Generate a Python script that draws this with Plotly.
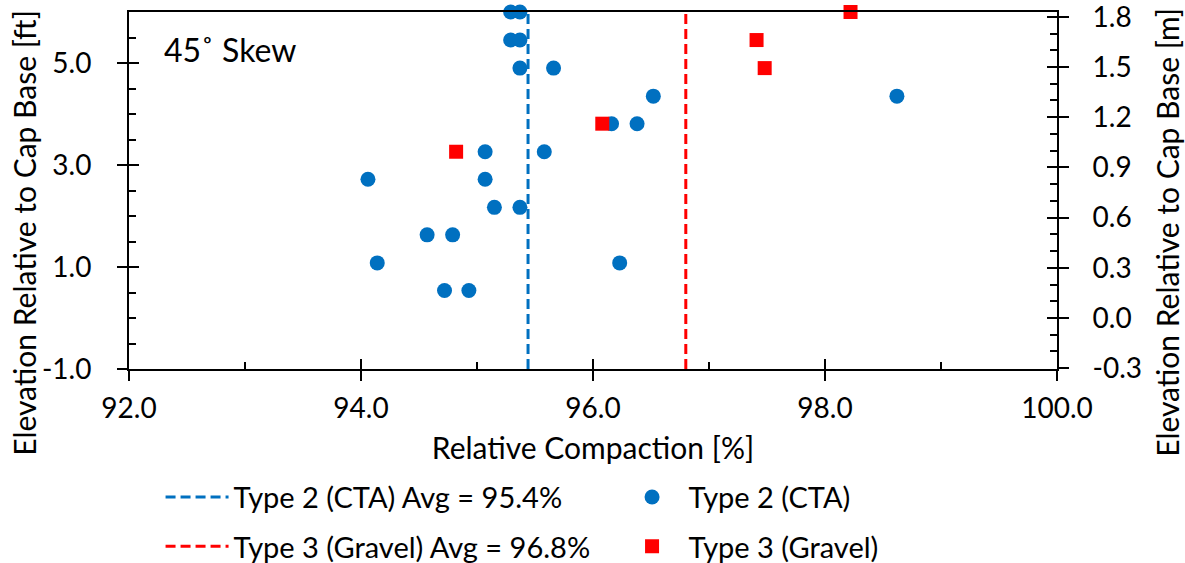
import plotly.graph_objects as go

# ---- data ----
cta_compaction = [95.29, 95.37, 95.29, 95.37, 95.37, 95.66, 96.52, 98.62, 96.16, 96.38, 95.07,
                  95.58, 94.06, 95.07, 95.15, 95.37, 94.57, 94.79, 94.14, 96.23, 94.72, 94.93]
cta_elev_ft = [6.0, 6.0, 5.45, 5.45, 4.9, 4.9, 4.35, 4.35, 3.81, 3.81, 3.26,
               3.26, 2.72, 2.72, 2.17, 2.17, 1.63, 1.63, 1.08, 1.08, 0.54, 0.54]
gravel_compaction = [98.22, 97.41, 97.48, 96.08, 94.82]
gravel_elev_ft = [6.0, 5.45, 4.9, 3.81, 3.26]
avg_names = ["Type 2 (CTA) Avg = 95.4%", "Type 3 (Gravel) Avg = 96.8%"]
avg_values = [95.44, 96.80]
x_range = [92, 100]
y_range_ft = [-1, 6]
ft_tick_vals = [-1, 1, 3, 5]
ft_tick_text = ["-1.0", "1.0", "3.0", "5.0"]
m_tick_vals = [-0.3, 0.0, 0.3, 0.6, 0.9, 1.2, 1.5, 1.8]
m_tick_text = ["-0.3", "0.0", "0.3", "0.6", "0.9", "1.2", "1.5", "1.8"]
FT_TO_M = 0.3048

BLUE = "#0070C0"
RED = "#FF0000"
FONT = "Lato"
TXT = dict(family=FONT, color="black")

fig = go.Figure()
fig.add_trace(go.Scatter(x=[avg_values[0]] * 2, y=y_range_ft, mode="lines", name=avg_names[0],
                         line=dict(color=BLUE, width=3, dash="10px,5px"), legend="legend"))
fig.add_trace(go.Scatter(x=cta_compaction, y=cta_elev_ft, mode="markers", name="Type 2 (CTA)",
                         marker=dict(color=BLUE, size=15, symbol="circle"), cliponaxis=False,
                         legend="legend"))
fig.add_trace(go.Scatter(x=[avg_values[1]] * 2, y=y_range_ft, mode="lines", name=avg_names[1],
                         line=dict(color=RED, width=3, dash="10px,5px"), legend="legend2"))
fig.add_trace(go.Scatter(x=gravel_compaction, y=gravel_elev_ft, mode="markers", name="Type 3 (Gravel)",
                         marker=dict(color=RED, size=14, symbol="square"), cliponaxis=False,
                         legend="legend2"))
# empty helper traces so that the secondary / tick-overlay axes get drawn
for xa, ya in [("x", "y2"), ("x", "y4"), ("x3", "y3")]:
    fig.add_trace(go.Scatter(x=[None], y=[None], xaxis=xa, yaxis=ya, mode="markers",
                             showlegend=False, hoverinfo="skip"))

common = dict(showgrid=False, zeroline=False, tickfont=dict(size=28, **TXT), tickcolor="black",
              tickwidth=2, automargin=False)
minor_style = dict(ticks="inside", ticklen=7, tickcolor="black", tickwidth=2)

legend_common = dict(orientation="h", x=0.034, xanchor="left", yanchor="middle",
                     font=dict(size=29, **TXT), bgcolor="rgba(0,0,0,0)",
                     itemwidth=63, entrywidth=377, entrywidthmode="pixels", traceorder="normal")

m_range = [y_range_ft[0] * FT_TO_M, y_range_ft[1] * FT_TO_M]

fig.update_layout(
    width=1185, height=563,
    margin=dict(l=129, r=128, t=12, b=194, autoexpand=False),
    paper_bgcolor="white", plot_bgcolor="white",
    font=TXT,
    xaxis=dict(range=x_range, dtick=2, tick0=92, tickformat=".1f", ticks="outside", ticklen=10,
               ticklabelstandoff=3, ticklabeloverflow="allow",
               showline=True, linecolor="black", linewidth=2, mirror=True,
               title=dict(text="Relative Compaction [%]", font=dict(size=30, **TXT), standoff=15),
               **common),
    xaxis3=dict(range=x_range, overlaying="x", dtick=2, tick0=92, ticks="inside", ticklen=10,
                showticklabels=False, showline=False, minor=dict(dtick=1, **minor_style), **common),
    yaxis=dict(range=y_range_ft, tickvals=ft_tick_vals, ticktext=ft_tick_text, ticks="outside",
               ticklen=10, ticklabelstandoff=20, ticklabeloverflow="allow",
               showline=True, linecolor="black", linewidth=2, **common),
    yaxis3=dict(range=y_range_ft, overlaying="y", tickvals=ft_tick_vals, ticks="inside", ticklen=10,
                showticklabels=False, showline=False, minor=dict(dtick=0.5, **minor_style), **common),
    yaxis2=dict(range=m_range, overlaying="y", side="right", tickvals=m_tick_vals, ticktext=m_tick_text,
                ticks="outside", ticklen=10, ticklabelstandoff=18, ticklabeloverflow="allow",
                showline=True, linecolor="black", linewidth=2, **common),
    yaxis4=dict(range=m_range, overlaying="y", side="right", tickvals=m_tick_vals, ticks="inside",
                ticklen=10, showticklabels=False, showline=False,
                minor=dict(dtick=0.1, **minor_style), **common),
    legend=dict(y=-0.359, **legend_common),
    legend2=dict(y=-0.497, **legend_common),
    annotations=[
        dict(text="45˚ Skew", xref="paper", yref="paper", x=0.036, y=0.895,
             xanchor="left", yanchor="middle", showarrow=False, font=dict(size=32, **TXT)),
        dict(text="Elevation Relative to Cap Base [ft]", xref="paper", yref="paper",
             x=(24 - 129) / 928, y=(369 - 233) / 356.5, xanchor="center", yanchor="middle",
             textangle=-90, showarrow=False, font=dict(size=30, **TXT)),
        dict(text="Elevation Relative to Cap Base [m]", xref="paper", yref="paper",
             x=(1167 - 129) / 928, y=(369 - 233) / 356.5, xanchor="center", yanchor="middle",
             textangle=-90, showarrow=False, font=dict(size=30, **TXT)),
    ],
)

fig.write_html("out.html", config={"displayModeBar": False},
               post_script="document.body.style.margin='0';")
